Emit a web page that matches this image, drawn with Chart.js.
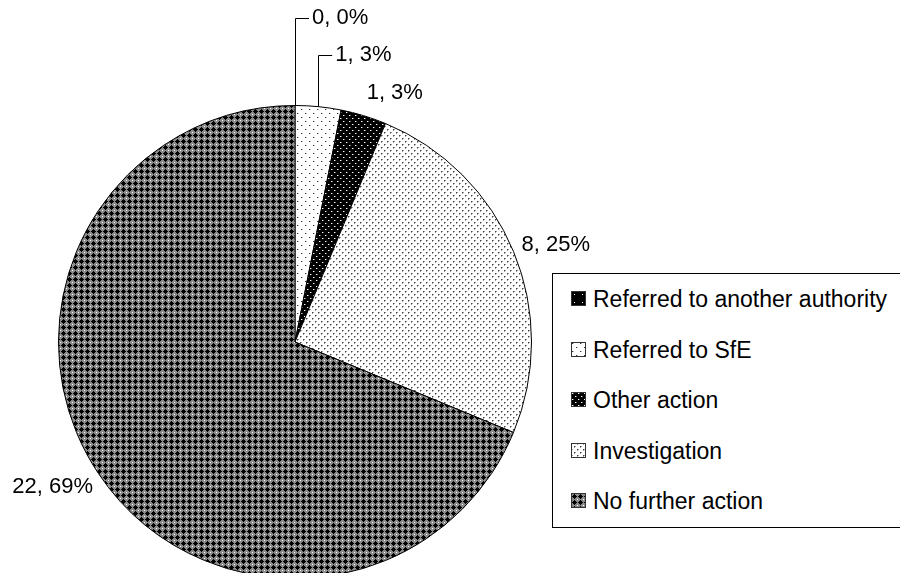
<!DOCTYPE html>
<html lang="en">
<head>
    <meta charset="UTF-8">
    <title>Outcomes</title>
    <script src="https://cdn.jsdelivr.net/npm/chart.js@4/dist/chart.umd.min.js"></script>
    <style>
        body { margin: 0; background: #fff; }
        #frame { position: relative; width: 900px; height: 573px; overflow: hidden; }
        #chartBox { position: absolute; left: 0; top: 0; width: 900px; height: 600px; }
        #legend {
            position: absolute; left: 552px; top: 273px; width: 360px;
            border: 1px solid #000; background: #fff;
            font-family: 'Liberation Sans', Arial, sans-serif; font-size: 23px; color: #000;
        }
        .item { height: 50.5px; line-height: 50.5px; padding-left: 18px; white-space: nowrap; }
        .item canvas { vertical-align: middle; margin-right: 7px; position: relative; top: -2px; }
    </style>
</head>
<body>
    <div id="frame">
        <div id="chartBox"><canvas id="pieChart"></canvas></div>
        <div id="legend"></div>
    </div>

    <script>
        const categories = ['Referred to another authority', 'Referred to SfE', 'Other action', 'Investigation', 'No further action'];
        const counts = [0, 1, 1, 8, 22];

        // fill patterns, one per category
        function makeTile(kind) {
            const t = document.createElement('canvas');
            const c = t.getContext('2d');
            if (kind === 'authority') {
                t.width = 8; t.height = 8;
                c.fillStyle = '#000'; c.fillRect(0, 0, 8, 8);
                c.fillStyle = '#fff'; c.fillRect(3, 3, 1, 1);
            } else if (kind === 'sfe') {
                t.width = 8; t.height = 8;
                c.fillStyle = '#fff'; c.fillRect(0, 0, 8, 8);
                c.fillStyle = '#333'; c.fillRect(1, 1, 1, 1); c.fillRect(5, 5, 1, 1);
                c.fillStyle = '#bbb'; c.fillRect(2, 1, 1, 1); c.fillRect(6, 5, 1, 1);
            } else if (kind === 'other') {
                t.width = 6; t.height = 6;
                c.fillStyle = '#000'; c.fillRect(0, 0, 6, 6);
                c.fillStyle = '#fff'; c.fillRect(1, 1, 1, 1); c.fillRect(4, 4, 1, 1);
                c.fillStyle = '#666'; c.fillRect(2, 1, 1, 1); c.fillRect(5, 4, 1, 1);
            } else if (kind === 'investigation') {
                t.width = 6; t.height = 6;
                c.fillStyle = '#fff'; c.fillRect(0, 0, 6, 6);
                c.fillStyle = '#444'; c.fillRect(0, 0, 1, 1); c.fillRect(3, 3, 1, 1);
                c.fillStyle = '#999'; c.fillRect(1, 0, 1, 1); c.fillRect(4, 3, 1, 1);
                c.fillRect(0, 1, 1, 1); c.fillRect(3, 4, 1, 1);
            } else {
                t.width = 6; t.height = 6;
                c.fillStyle = '#8a8a8a'; c.fillRect(0, 0, 6, 6);
                c.fillStyle = '#000';
                c.fillRect(2, 2, 3, 3); c.fillRect(3, 1, 1, 5); c.fillRect(1, 3, 5, 1);
                c.fillStyle = '#fff'; c.fillRect(0, 0, 1, 1);
            }
            return t;
        }
        const kinds = ['authority', 'sfe', 'other', 'investigation', 'nfa'];
        const ctx = document.getElementById('pieChart').getContext('2d');
        const fills = kinds.map(k => ctx.createPattern(makeTile(k), 'repeat'));

        // label placement: offset of the label's left middle from the arc edge point
        const labelPlace = [
            { dx: 17, dy: -88, leader: true },
            { dx: 17, dy: -52, leader: true },
            { dx: 3, dy: -23 },
            { dx: 8, dy: -7 },
            { dx: -86, dy: 14 }
        ];

        const pieLabels = {
            id: 'pieLabels',
            afterDatasetsDraw(chart) {
                const c = chart.ctx;
                const meta = chart.getDatasetMeta(0);
                const data = chart.data.datasets[0].data;
                const total = data.reduce((a, b) => a + b, 0);
                c.save();
                c.font = '22px "Liberation Sans", Arial, sans-serif';
                c.fillStyle = '#000';
                c.strokeStyle = '#000';
                c.lineWidth = 1;
                c.textAlign = 'left';
                c.textBaseline = 'middle';
                meta.data.forEach((arc, i) => {
                    const p = arc.getProps(['x', 'y', 'startAngle', 'endAngle', 'outerRadius'], true);
                    const mid = (p.startAngle + p.endAngle) / 2;
                    const ex = p.x + Math.cos(mid) * p.outerRadius;
                    const ey = p.y + Math.sin(mid) * p.outerRadius;
                    const pl = labelPlace[i];
                    const tx = ex + pl.dx, ty = ey + pl.dy;
                    if (pl.leader) {
                        const lx = Math.round(ex) + 0.5, ly = Math.round(ty) + 0.5;
                        c.beginPath();
                        c.moveTo(lx, ey);
                        c.lineTo(lx, ly);
                        c.lineTo(tx - 3, ly);
                        c.stroke();
                    }
                    const pct = Math.round(data[i] / total * 100);
                    c.fillText(data[i] + ', ' + pct + '%', tx, ty);
                });
                c.restore();
            }
        };

        new Chart(ctx, {
            type: 'pie',
            data: {
                labels: categories,
                datasets: [{
                    data: counts,
                    backgroundColor: fills,
                    borderColor: '#000',
                    borderWidth: 1
                }]
            },
            options: {
                responsive: true,
                maintainAspectRatio: false,
                animation: false,
                events: [],
                layout: { padding: { left: 58, right: 368, top: 105, bottom: 21 } },
                plugins: { legend: { display: false }, tooltip: { enabled: false } }
            },
            plugins: [pieLabels]
        });

        // legend with pattern swatches
        const legend = document.getElementById('legend');
        categories.forEach((name, i) => {
            const row = document.createElement('div');
            row.className = 'item';
            const sw = document.createElement('canvas');
            sw.width = 15; sw.height = 15;
            const s = sw.getContext('2d');
            s.fillStyle = s.createPattern(makeTile(kinds[i]), 'repeat');
            s.fillRect(0, 0, 15, 15);
            s.strokeStyle = '#333';
            s.strokeRect(0.5, 0.5, 14, 14);
            row.appendChild(sw);
            row.appendChild(document.createTextNode(name));
            legend.appendChild(row);
        });
    </script>
</body>
</html>
